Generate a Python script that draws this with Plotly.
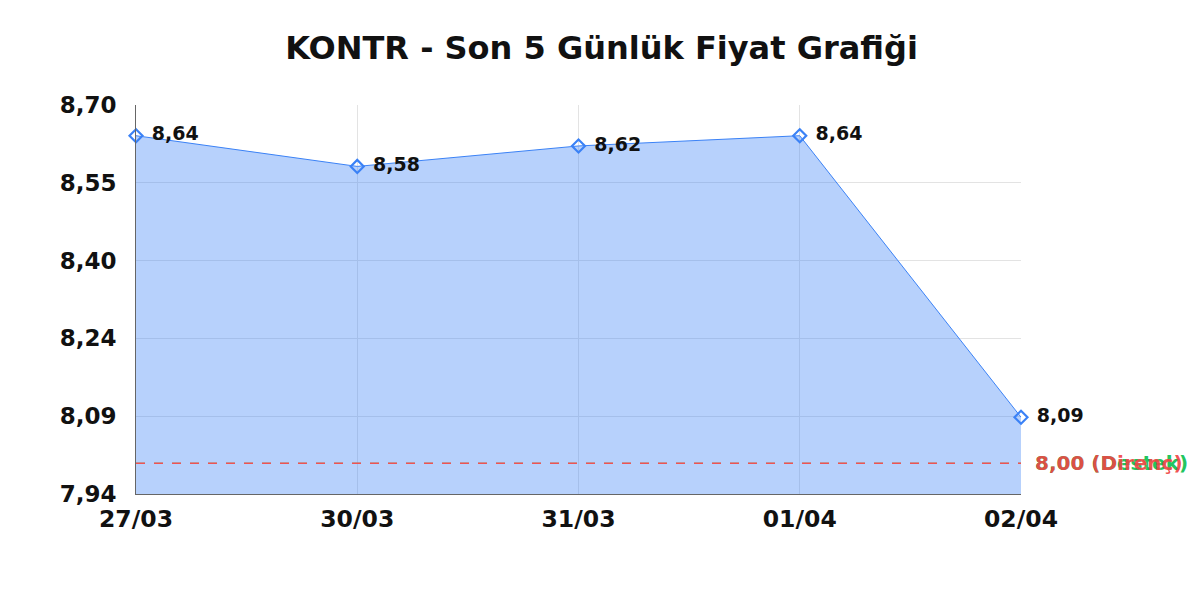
import plotly.graph_objects as go

dates = ["27/03", "30/03", "31/03", "01/04", "02/04"]
prices = [8.64, 8.58, 8.62, 8.64, 8.09]
price_labels = ["8,64", "8,58", "8,62", "8,64", "8,09"]
y_min, y_max = 7.94, 8.70
n_ticks = 6
resistance = 8.00
support = 8.00
resistance_label = "8,00 (Direnç)"
support_label = "8,00 (Destek)"

step = (y_max - y_min) / (n_ticks - 1)
tickvals = [y_min + i * step for i in range(n_ticks)]
ticktext = [f"{v:.2f}".replace(".", ",") for v in tickvals]

blue = "#3b82f6"
fig = go.Figure()
fig.add_trace(go.Scatter(
    x=dates, y=prices, mode="lines+markers+text",
    text=[" \u200a" + t for t in price_labels], textposition="middle right",
    textfont=dict(family="DejaVu Sans", size=19, color="#111111", weight="bold"),
    line=dict(color=blue, width=1),
    marker=dict(symbol="diamond-open", size=10, color=blue, line=dict(width=2.2, color=blue)),
    fill="tozeroy", fillcolor="rgba(59,130,246,0.37)",
    cliponaxis=False, showlegend=False,
))

fig.add_shape(type="line", xref="paper", yref="y", x0=0, x1=1, y0=support, y1=support,
              line=dict(color="#22c55e", width=1, dash="dash"))
fig.add_shape(type="line", xref="paper", yref="y", x0=0, x1=1, y0=resistance, y1=resistance,
              line=dict(color="#ef5353", width=1.6, dash="dash"))
fig.add_annotation(xref="paper", yref="y", x=1.014, y=support, text=support_label,
                   showarrow=False, xanchor="left", yanchor="middle",
                   font=dict(family="DejaVu Sans", size=20, color="#22c55e", weight="bold"))
fig.add_annotation(xref="paper", yref="y", x=1.014, y=resistance, text=resistance_label,
                   showarrow=False, xanchor="left", yanchor="middle",
                   font=dict(family="DejaVu Sans", size=20, color="rgba(239,68,68,0.92)", weight="bold"))

fig.update_layout(
    width=1200, height=600,
    paper_bgcolor="white", plot_bgcolor="white",
    margin=dict(l=128, r=187, t=97, b=114),
    title=dict(text="KONTR - Son 5 Günlük Fiyat Grafiği", x=0.4946, xref="container", xanchor="center",
               y=0.933, yref="container", yanchor="middle",
               font=dict(family="DejaVu Sans", size=32, color="#111111", weight="bold")),
    xaxis=dict(type="category", range=[0, 4], showgrid=True, gridcolor="#e3e3e3",
               showline=True, linecolor="#666666", linewidth=1,
               tickfont=dict(family="DejaVu Sans", size=23.5, color="#111111", weight="bold"),
               ticks="", zeroline=False, ticklabelstandoff=4),
    yaxis=dict(range=[y_min, y_max], tickvals=tickvals, ticktext=ticktext,
               showgrid=True, gridcolor="#e3e3e3", showline=True, linecolor="#666666", linewidth=1,
               tickfont=dict(family="DejaVu Sans", size=23, color="#111111", weight="bold"),
               ticks="", zeroline=False, ticklabelstandoff=14),
)
fig.write_html("out.html")
